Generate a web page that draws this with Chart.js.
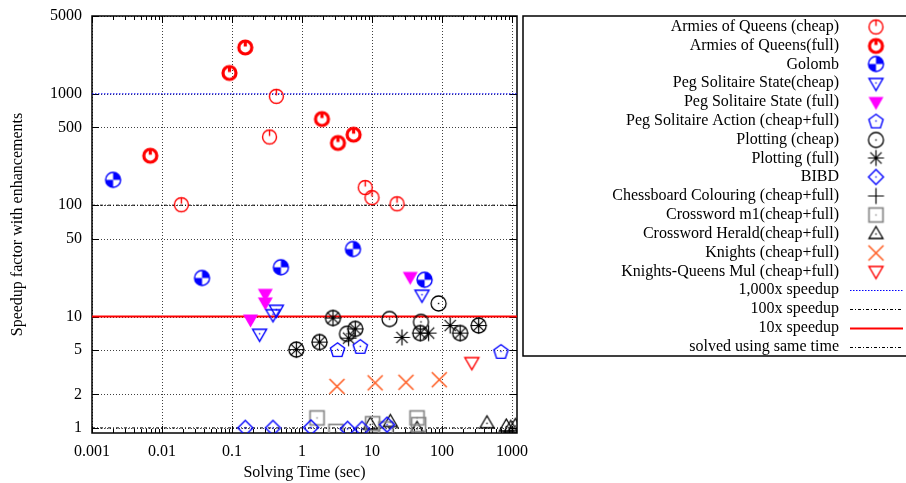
<!DOCTYPE html>
<html>
<head>
<meta charset="utf-8">
<script src="https://cdn.jsdelivr.net/npm/chart.js@4"></script>
<style>
  body { margin: 0; background: #fff; }
</style>
</head>
<body>
<canvas id="chart" width="906" height="483"></canvas>
<script>
// [solving time (sec), speedup]
const armiesCheap = [[0.43, 950], [0.344, 410], [0.0189, 101], [8.0, 144], [10, 117], [22.8, 103]];
const armiesFull = [[0.155, 2610], [0.092, 1540], [0.0068, 278], [1.93, 594], [3.27, 362], [5.46, 430]];
const golomb = [[0.002, 169], [0.0373, 22.2], [0.5, 27.7], [5.35, 40.4], [56.4, 21.4]];
const pegStateCheap = [[0.248, 7.0], [0.385, 10.5], [0.43, 11.5], [51.8, 15.7]];
const pegStateFull = [[0.299, 16], [0.299, 13.4], [0.184, 9.4], [35.2, 22.7]];
const pegAction = [[3.22, 5.05], [6.8, 5.4], [697, 4.87]];
const plottingCheap = [[0.83, 5.05], [1.78, 5.9], [2.77, 9.7], [4.39, 7.0], [5.77, 7.74], [17.8, 9.5],
  [89.4, 13.1], [50.1, 8.95], [49, 7.1], [182, 7.1], [334, 8.3]];
const plottingFull = [[0.83, 5.05], [1.78, 5.9], [2.77, 9.7], [4.63, 6.4], [5.77, 7.74], [26.8, 6.5],
  [49, 7.1], [64.4, 7.1], [131, 8.3], [182, 7.1], [334, 8.3]];
const bibd = [[0.155, 1.0], [0.385, 1.0], [1.345, 1.01], [4.48, 0.98], [7.2, 0.98], [16.4, 1.07]];
const chessboard = [];
const crosswordM1 = [[1.64, 1.23], [3.06, 0.93], [10.2, 1.09], [15.8, 0.98], [44, 1.23], [46.3, 1.07]];
const crosswordHerald = [[9.45, 1.07], [18.3, 1.13], [44, 0.98], [439, 1.1], [829, 1.03], [962, 1.0], [1114, 1.04]];
const knights = [[3.16, 2.36], [11.1, 2.54], [30.6, 2.57], [91.5, 2.71]];
const knightsQueens = [[267, 3.9]];

const seriesNames = ['Armies of Queens (cheap)', 'Armies of Queens(full)', 'Golomb', 'Peg Solitaire State(cheap)',
  'Peg Solitaire State (full)', 'Peg Solitaire Action (cheap+full)', 'Plotting (cheap)', 'Plotting (full)', 'BIBD',
  'Chessboard Colouring (cheap+full)', 'Crossword m1(cheap+full)', 'Crossword Herald(cheap+full)',
  'Knights (cheap+full)', 'Knights-Queens Mul (cheap+full)'];
const refNames = ['1,000x speedup', '100x speedup', '10x speedup', 'solved using same time'];
const refLevels = [1000, 100, 10, 1];

const xMin = 0.001, xMax = 1180, yMin = 0.9, yMax = 5000;
const xTicks = [0.001, 0.01, 0.1, 1, 10, 100, 1000];
const yTicks = [1, 2, 5, 10, 50, 100, 500, 1000, 5000];

const FONT = '"Liberation Serif", "DejaVu Serif", serif';

// symbols drawn onto small canvases, used as pointStyle
function sym(draw) {
  const c = document.createElement('canvas');
  c.width = 21; c.height = 21;
  const g = c.getContext('2d');
  g.translate(10.5, 10.5);
  g.lineJoin = 'miter';
  draw(g);
  return c;
}
const dot = (g, col) => { g.fillStyle = col; g.fillRect(-0.7, -0.7, 1.4, 1.4); };
const poly = (g, pts) => { g.beginPath(); pts.forEach((p, i) => i ? g.lineTo(p[0], p[1]) : g.moveTo(p[0], p[1])); g.closePath(); };

const RED = '#ff0000', BLUE = '#0000ff';
const styles = [
  sym(g => { g.strokeStyle = RED; g.lineWidth = 1.4; g.beginPath(); g.arc(0, 0, 7, 0, Math.PI * 2); g.stroke();
    g.beginPath(); g.moveTo(0, -7); g.lineTo(0, -1); g.stroke(); }),
  sym(g => { g.strokeStyle = RED; g.lineWidth = 3.2; g.beginPath(); g.arc(0, 0, 6.5, 0, Math.PI * 2); g.stroke();
    g.beginPath(); g.moveTo(0, -7); g.lineTo(0, -1); g.stroke(); }),
  sym(g => { g.fillStyle = BLUE; g.beginPath(); g.moveTo(0, 0); g.arc(0, 0, 7.5, -Math.PI / 2, 0); g.closePath(); g.fill();
    g.beginPath(); g.moveTo(0, 0); g.arc(0, 0, 7.5, Math.PI / 2, Math.PI); g.closePath(); g.fill();
    g.strokeStyle = BLUE; g.lineWidth = 1.4; g.beginPath(); g.arc(0, 0, 7.5, 0, Math.PI * 2); g.stroke(); }),
  sym(g => { g.strokeStyle = BLUE; g.lineWidth = 1.4; poly(g, [[-7, -4.5], [7, -4.5], [0, 7.5]]); g.stroke(); dot(g, BLUE); }),
  sym(g => { g.fillStyle = '#ff00ff'; poly(g, [[-7.5, -5], [7.5, -5], [0, 8]]); g.fill(); }),
  sym(g => { g.strokeStyle = BLUE; g.lineWidth = 1.4;
    poly(g, [0, 1, 2, 3, 4].map(k => [7.5 * Math.cos(-Math.PI / 2 + k * 2 * Math.PI / 5), 7.5 * Math.sin(-Math.PI / 2 + k * 2 * Math.PI / 5) + 0.8]));
    g.stroke(); dot(g, BLUE); }),
  sym(g => { g.strokeStyle = '#000'; g.lineWidth = 1.3; g.beginPath(); g.arc(0, 0, 7.5, 0, Math.PI * 2); g.stroke(); dot(g, '#000'); }),
  sym(g => { g.strokeStyle = '#000'; g.lineWidth = 1.2; g.beginPath();
    [0, 45, 90, 135].forEach(a => { const r = a * Math.PI / 180, dx = 8 * Math.cos(r), dy = 8 * Math.sin(r);
      g.moveTo(-dx, -dy); g.lineTo(dx, dy); }); g.stroke(); }),
  sym(g => { g.strokeStyle = BLUE; g.lineWidth = 1.4; poly(g, [[0, -7.5], [7.5, 0], [0, 7.5], [-7.5, 0]]); g.stroke(); dot(g, BLUE); }),
  sym(g => { g.strokeStyle = '#000'; g.lineWidth = 1.2; g.beginPath(); g.moveTo(-8, 0); g.lineTo(8, 0); g.moveTo(0, -8); g.lineTo(0, 8); g.stroke(); }),
  sym(g => { g.strokeStyle = '#888'; g.lineWidth = 1.7; g.strokeRect(-7, -7, 14, 14); dot(g, '#888'); }),
  sym(g => { g.strokeStyle = '#000'; g.lineWidth = 1.3; poly(g, [[0, -7.5], [7, 4.5], [-7, 4.5]]); g.stroke(); dot(g, '#000'); }),
  sym(g => { g.strokeStyle = '#ff5a1e'; g.lineWidth = 1.5; g.beginPath(); g.moveTo(-7.5, -7.5); g.lineTo(7.5, 7.5);
    g.moveTo(7.5, -7.5); g.lineTo(-7.5, 7.5); g.stroke(); }),
  sym(g => { g.strokeStyle = RED; g.lineWidth = 1.4; poly(g, [[-7, -4.5], [7, -4.5], [0, 7.5]]); g.stroke(); })
];

const seriesData = [armiesCheap, armiesFull, golomb, pegStateCheap, pegStateFull, pegAction, plottingCheap,
  plottingFull, bibd, chessboard, crosswordM1, crosswordHerald, knights, knightsQueens];

const refStyles = [
  { color: BLUE, width: 1, dash: [1.5, 1.5] },
  { color: '#000', width: 1, dash: [3, 2, 1, 2] },
  { color: RED, width: 2, dash: [] },
  { color: '#000', width: 1, dash: [3, 2, 1, 2] }
];

const datasets = seriesData.map((d, i) => ({
  label: seriesNames[i],
  data: d.map(p => ({ x: p[0], y: p[1] })),
  pointStyle: styles[i],
  pointRadius: 7,
  showLine: false
}));
refLevels.forEach((v, i) => {
  datasets.push({
    label: refNames[i],
    data: [{ x: xMin, y: v }, { x: xMax, y: v }],
    showLine: true,
    pointRadius: 0,
    borderColor: refStyles[i].color,
    borderWidth: refStyles[i].width,
    borderDash: refStyles[i].dash,
    isRef: true
  });
});

const frame = {
  id: 'frame',
  beforeDatasetsDraw(chart) {
    const { ctx, chartArea: a, scales: { x, y } } = chart;
    ctx.save();
    // dotted grid
    ctx.strokeStyle = 'rgba(0,0,0,0.75)';
    ctx.lineWidth = 1;
    ctx.setLineDash([1, 2]);
    ctx.beginPath();
    xTicks.forEach(v => { const px = Math.round(x.getPixelForValue(v)) + 0.5; ctx.moveTo(px, a.top); ctx.lineTo(px, a.bottom); });
    yTicks.forEach(v => { const py = Math.round(y.getPixelForValue(v)) + 0.5; ctx.moveTo(a.left, py); ctx.lineTo(a.right, py); });
    ctx.stroke();
    ctx.setLineDash([]);
    // tick marks, mirrored
    ctx.strokeStyle = '#000';
    ctx.beginPath();
    for (let d = 0.001; d < 2000; d *= 10) {
      for (let m = 1; m <= 9; m++) {
        const v = d * m;
        if (v < xMin || v > xMax) continue;
        const len = m === 1 ? 7 : 4;
        const px = Math.round(x.getPixelForValue(v)) + 0.5;
        ctx.moveTo(px, a.bottom); ctx.lineTo(px, a.bottom - len);
        ctx.moveTo(px, a.top); ctx.lineTo(px, a.top + len);
      }
    }
    yTicks.forEach(v => {
      const py = Math.round(y.getPixelForValue(v)) + 0.5;
      ctx.moveTo(a.left, py); ctx.lineTo(a.left + 7, py);
      ctx.moveTo(a.right, py); ctx.lineTo(a.right - 7, py);
    });
    ctx.stroke();
    ctx.lineWidth = 1.5;
    ctx.strokeRect(a.left, a.top, a.right - a.left, a.bottom - a.top);
    ctx.restore();
  },
  afterDraw(chart) {
    const { ctx, chartArea: a } = chart;
    ctx.save();
    ctx.fillStyle = '#000';
    ctx.font = '16px ' + FONT;
    ctx.textAlign = 'center';
    ctx.textBaseline = 'middle';
    ctx.fillText('Solving Time (sec)', (a.left + a.right) / 2, 473);
    ctx.translate(18, (a.top + a.bottom) / 2);
    ctx.rotate(-Math.PI / 2);
    ctx.fillText('Speedup factor with enhancements', 0, 0);
    ctx.restore();

    // key box
    ctx.save();
    ctx.strokeStyle = '#000';
    ctx.lineWidth = 1.5;
    ctx.strokeRect(523, 16, 400, 340);
    ctx.font = '16px ' + FONT;
    ctx.textAlign = 'right';
    ctx.textBaseline = 'middle';
    chart.data.datasets.forEach((ds, i) => {
      const ry = 26.7 + i * 18.82;
      ctx.fillStyle = '#000';
      ctx.fillText(ds.label, 839, ry);
      if (ds.isRef) {
        ctx.strokeStyle = ds.borderColor;
        ctx.lineWidth = ds.borderWidth;
        ctx.setLineDash(ds.borderDash);
        ctx.beginPath();
        ctx.moveTo(850, Math.round(ry) + 0.5);
        ctx.lineTo(903, Math.round(ry) + 0.5);
        ctx.stroke();
        ctx.setLineDash([]);
      } else {
        const s = ds.pointStyle;
        ctx.drawImage(s, 876 - s.width / 2, Math.round(ry) - s.height / 2);
      }
    });
    ctx.restore();
  }
};

new Chart(document.getElementById('chart'), {
  type: 'scatter',
  data: { datasets },
  plugins: [frame],
  options: {
    responsive: false,
    animation: false,
    layout: { padding: { left: 0, top: 16, right: 389, bottom: 0 } },
    plugins: { legend: { display: false }, tooltip: { enabled: false } },
    scales: {
      x: {
        type: 'logarithmic',
        min: xMin, max: xMax,
        afterFit: s => { s.height = 50; },
        afterBuildTicks: s => { s.ticks = xTicks.map(v => ({ value: v })); },
        grid: { display: false },
        border: { display: false },
        ticks: { color: '#000', padding: 1, maxRotation: 0, autoSkip: false,
          font: { family: FONT, size: 16 }, callback: v => String(v) }
      },
      y: {
        type: 'logarithmic',
        min: yMin, max: yMax,
        afterFit: s => { s.width = 92; },
        afterBuildTicks: s => { s.ticks = yTicks.map(v => ({ value: v })); },
        grid: { display: false },
        border: { display: false },
        ticks: { color: '#000', padding: 2, autoSkip: false,
          font: { family: FONT, size: 16 }, callback: v => String(v) }
      }
    }
  }
});
</script>
</body>
</html>
